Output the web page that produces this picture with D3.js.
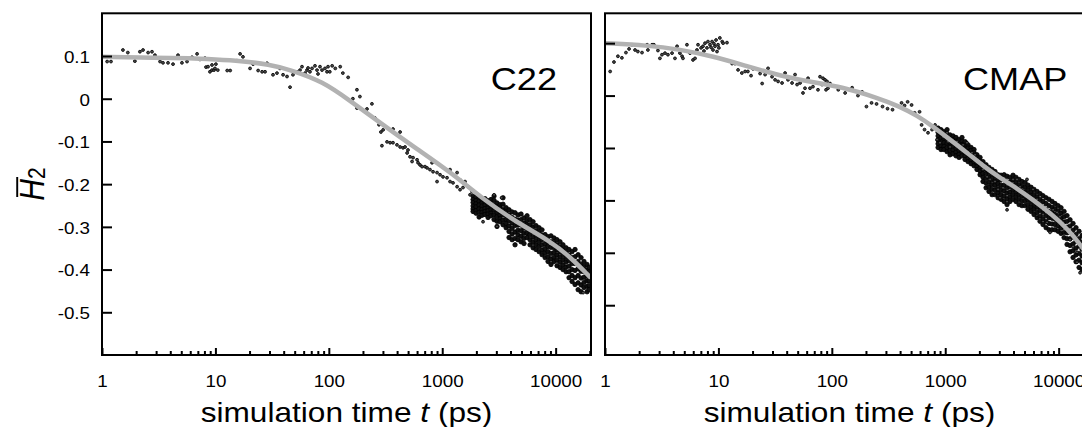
<!DOCTYPE html>
<html>
<head>
<meta charset="utf-8">
<script src="https://cdn.jsdelivr.net/npm/d3@7"></script>
<style>
  body { margin: 0; background: #fff; }
  svg { display: block; }
  text { font-family: "Liberation Sans", Arial, Helvetica, sans-serif; fill: #000; }
</style>
</head>
<body>
<svg id="chart" width="1082" height="427"></svg>
<script>
// ---- axis tick values and labels ----
const decadeTicks = [1, 10, 100, 1000, 10000];
const decadeLabels = ["1", "10", "100", "1000", "10000"];
const yTicksC22 = [0.1, 0, -0.1, -0.2, -0.3, -0.4, -0.5];
const yTicksCMAP = [0.1, 0, -0.1, -0.2, -0.3, -0.4];
const panelNames = ["C22", "CMAP"];

// ---- C22: individual samples [t (ps), H2] ----
const c22Scatter = [
  [1.11,0.087],[1.2,0.087],[1.53,0.114],[1.69,0.108],[1.95,0.088],[2.16,0.110],[2.30,0.114],[2.55,0.108],
  [2.76,0.110],[2.93,0.102],[3.25,0.087],[3.45,0.084],[3.82,0.084],[4.23,0.081],[4.68,0.102],[5.07,0.084],
  [5.62,0.087],[6.22,0.097],[6.89,0.105],[7.31,0.092],[8.09,0.095],[8.26,0.074],[8.61,0.075],[8.95,0.063],
  [9.33,0.067],[9.33,0.079],[9.72,0.067],[9.91,0.071],[10.1,0.081],[10.5,0.067],[11.0,0.091],[12.7,0.066],
  [13.5,0.066],[15.5,0.089],[16.5,0.105],[17.5,0.098],[20.2,0.071],[21.5,0.081],[23.8,0.066],[25.8,0.063],
  [27.4,0.063],[28.5,0.083],[32.2,0.056],[34.9,0.060],[37.1,0.071],[39.5,0.056],[42.8,0.052],[45.5,0.027],
  [48.3,0.056],[52.5,0.063],[55.7,0.067],[58.0,0.075],[61.7,0.060],[64.2,0.067],[65.6,0.072],[68.2,0.063],
  [71.1,0.071],[75.5,0.077],[78.7,0.067],[80.3,0.058],[83.6,0.075],[87.1,0.067],[92.5,0.071],[96.4,0.063],
  [98.4,0.075],[102,0.063],[107,0.077],[114,0.071],[126,0.075],[133,0.060],[148,0.050],[163,0.000],
  [177,0.021],[188,0.005],
  [177,-0.022],[217,-0.024],[240,-0.012],[255,-0.045],[277,-0.061],[288,-0.078],[294,-0.110],[301,-0.073],
  [326,-0.101],[347,-0.103],[368,-0.071],[368,-0.103],[399,-0.108],[425,-0.078],[425,-0.113],[451,-0.115],
  [470,-0.113],[490,-0.127],[499,-0.120],[520,-0.136],[542,-0.147],[553,-0.138],[600,-0.143],[612,-0.150],
  [637,-0.155],[664,-0.159],[705,-0.159],[735,-0.162],[780,-0.166],[813,-0.150],[830,-0.171],[900,-0.173],
  [900,-0.194],[957,-0.178],[1016,-0.183],[1102,-0.185],[1172,-0.166],[1172,-0.194],[1245,-0.197],[1352,-0.173],
  [1352,-0.206],[1436,-0.190],[1436,-0.213],[1525,-0.208],[1589,-0.194],[1690,-0.206],[1758,-0.225],[1832,-0.218],
  [2290,-0.288],[2864,-0.225],[3041,-0.299],[3340,-0.232],[17460,-0.454]
];

// ---- C22: dense late-time cloud, one column per time [t, [H2 ...]] ----
const c22Cloud = [
  [1871,[-0.228,-0.236,-0.243,-0.251,-0.258,-0.264]],
  [1987,[-0.230,-0.238,-0.246,-0.253,-0.262,-0.268]],
  [2113,[-0.232,-0.240,-0.249,-0.258,-0.266,-0.277]],
  [2244,[-0.237,-0.244,-0.251,-0.259,-0.266,-0.273]],
  [2384,[-0.234,-0.241,-0.249,-0.257,-0.264,-0.271]],
  [2535,[-0.239,-0.247,-0.256,-0.262,-0.270,-0.278]],
  [2692,[-0.236,-0.245,-0.252,-0.260,-0.268,-0.274]],
  [2864,[-0.228,-0.238,-0.250,-0.261,-0.272,-0.283]],
  [3041,[-0.244,-0.254,-0.266,-0.276,-0.287,-0.299]],
  [3236,[-0.248,-0.256,-0.265,-0.273,-0.281,-0.288]],
  [3436,[-0.232,-0.247,-0.260,-0.272,-0.284,-0.295]],
  [3656,[-0.255,-0.265,-0.274,-0.283,-0.292,-0.302]],
  [3882,[-0.260,-0.272,-0.285,-0.298,-0.311,-0.325]],
  [4130,[-0.265,-0.278,-0.291,-0.304,-0.317,-0.330]],
  [4385,[-0.267,-0.282,-0.297,-0.312,-0.327,-0.342]],
  [4656,[-0.272,-0.284,-0.296,-0.308,-0.319,-0.330]],
  [4955,[-0.270,-0.283,-0.296,-0.309,-0.322,-0.335]],
  [5260,[-0.279,-0.291,-0.303,-0.315,-0.327,-0.339]],
  [5598,[-0.274,-0.285,-0.295,-0.305,-0.315,-0.325]],
  [5943,[-0.283,-0.295,-0.307,-0.318,-0.330,-0.342]],
  [6324,[-0.288,-0.300,-0.312,-0.324,-0.336,-0.349]],
  [6714,[-0.297,-0.309,-0.320,-0.331,-0.342,-0.353]],
  [7145,[-0.302,-0.313,-0.324,-0.335,-0.346,-0.358]],
  [7586,[-0.307,-0.319,-0.330,-0.342,-0.354,-0.365]],
  [8072,[-0.318,-0.329,-0.340,-0.351,-0.361,-0.372]],
  [8570,[-0.323,-0.335,-0.346,-0.358,-0.370,-0.381]],
  [9099,[-0.321,-0.335,-0.348,-0.362,-0.375,-0.388]],
  [9683,[-0.326,-0.337,-0.349,-0.360,-0.371,-0.381]],
  [10280,[-0.330,-0.342,-0.354,-0.366,-0.378,-0.391]],
  [10940,[-0.335,-0.347,-0.359,-0.371,-0.383,-0.395]],
  [11610,[-0.342,-0.353,-0.365,-0.377,-0.389,-0.400]],
  [12360,[-0.349,-0.360,-0.371,-0.382,-0.394,-0.405]],
  [13120,[-0.353,-0.366,-0.379,-0.392,-0.405,-0.419]],
  [13960,[-0.358,-0.372,-0.386,-0.400,-0.414,-0.428]],
  [14830,[-0.353,-0.370,-0.386,-0.402,-0.419,-0.435]],
  [15780,[-0.365,-0.381,-0.398,-0.414,-0.431,-0.447]],
  [16750,[-0.372,-0.388,-0.404,-0.420,-0.436,-0.452]],
  [17780,[-0.381,-0.393,-0.405,-0.418,-0.430,-0.442]],
  [18920,[-0.388,-0.401,-0.414,-0.426,-0.439,-0.452]],
  [19720,[-0.395,-0.405,-0.416,-0.426,-0.437,-0.447]]
];

// ---- C22: fitted curve [t, H2] ----
const c22Fit = [
  [1,0.098],[3,0.096],[6,0.095],[10,0.092],[16.5,0.089],[30,0.080],[45.5,0.068],[89,0.040],
  [154,-0.005],[300,-0.061],[600,-0.118],[1172,-0.171],[2290,-0.235],[4570,-0.290],[8920,-0.333],
  [13400,-0.370],[20000,-0.417]
];

// ---- CMAP: individual samples [t (ps), H2] ----
const cmapScatter = [
  [1.11,0.046],[1.2,0.064],[1.30,0.075],[1.41,0.072],[1.53,0.082],[1.63,0.089],[1.73,0.097],[1.84,0.087],
  [1.95,0.084],[2.12,0.082],[2.35,0.097],[2.39,0.087],[2.60,0.097],[2.70,0.097],[2.93,0.086],[3.05,0.071],
  [3.18,0.078],[3.38,0.081],[3.59,0.078],[3.90,0.081],[4.14,0.071],[4.32,0.094],[4.58,0.081],[4.78,0.075],
  [4.87,0.071],[5.28,0.097],[5.62,0.081],[5.97,0.068],[6.22,0.071],[6.47,0.087],[6.61,0.097],[7.03,0.091],
  [7.31,0.094],[7.46,0.085],[7.62,0.100],[7.93,0.091],[8.09,0.103],[8.43,0.097],[8.61,0.092],[8.79,0.103],
  [8.96,0.087],[9.14,0.099],[9.33,0.094],[9.53,0.106],[9.72,0.084],[9.93,0.097],[10.1,0.091],[10.3,0.110],
  [10.8,0.103],[11.0,0.100],[11.9,0.101],
  [13.2,0.061],[14.0,0.061],[14.9,0.049],[16.1,0.043],[17.2,0.046],[18.2,0.046],[19.4,0.038],[20.2,0.051],
  [23.3,0.042],[24.3,0.023],[25.8,0.040],[27.4,0.052],[29.7,0.036],[31.6,0.030],[33.6,0.027],[36.4,0.024],
  [38.7,0.043],[41.1,0.030],[44.6,0.024],[47.4,0.040],[49.4,0.021],[52.5,0.024],[55.7,0.005],[58.0,0.014],
  [61.7,0.033],[64.2,0.014],[68.2,0.017],[74.0,0.024],[75.5,0.011],[78.7,0.036],[82.0,0.021],[83.6,0.033],
  [87.1,0.030],[88.9,0.011],[90.7,0.027],[92.5,0.014],[96.4,0.023],[114,0.011],[131,0.005],[151,0.015],
  [170,0.000],[185,0.007],
  [202,-0.021],[224,-0.014],[248,-0.016],[280,-0.021],[310,-0.025],[343,-0.027],[412,-0.014],[438,-0.019],
  [466,-0.012],[505,-0.018],[537,-0.033],[594,-0.031],[619,-0.056],[657,-0.065],[705,-0.071],[765,-0.065],
  [813,-0.056],[847,-0.084],[900,-0.090],[957,-0.079],[1038,-0.071],[1059,-0.088],[1102,-0.098],[1172,-0.090],
  [1271,-0.088],[1352,-0.099],[1436,-0.094],[1556,-0.090],[1589,-0.107],[1722,-0.109],[1832,-0.113],[1945,-0.122],
  [2113,-0.128],[2153,-0.141],[2339,-0.155],[2484,-0.160],[2588,-0.147],[2748,-0.164],[2924,-0.179],[3041,-0.195],
  [3236,-0.176],[3508,-0.218],[3724,-0.166],[3963,-0.160],[4295,-0.160],[4571,-0.174],[4853,-0.183],[5260,-0.160],
  [5598,-0.198],[5943,-0.179],[6457,-0.198],[6855,-0.212],[7295,-0.227],[7907,-0.242],[8395,-0.261],[8933,-0.218],
  [9683,-0.223],[10280,-0.231],[10940,-0.242],[11860,-0.256],[12610,-0.275],[13400,-0.288],[14520,-0.299],
  [14520,-0.318],[15450,-0.338]
];

// ---- CMAP: dense late-time cloud [t, [H2 ...]] ----
const cmapCloud = [
  [865,[-0.062,-0.070,-0.077,-0.085,-0.092,-0.099]],
  [918,[-0.065,-0.073,-0.081,-0.089,-0.096,-0.103]],
  [975,[-0.069,-0.076,-0.083,-0.090,-0.097,-0.103]],
  [1038,[-0.065,-0.074,-0.082,-0.091,-0.099,-0.107]],
  [1102,[-0.075,-0.083,-0.090,-0.098,-0.105,-0.113]],
  [1172,[-0.077,-0.084,-0.091,-0.098,-0.104,-0.111]],
  [1245,[-0.080,-0.087,-0.094,-0.101,-0.108,-0.115]],
  [1324,[-0.084,-0.091,-0.098,-0.105,-0.112,-0.118]],
  [1406,[-0.080,-0.087,-0.094,-0.101,-0.108,-0.115]],
  [1496,[-0.088,-0.095,-0.102,-0.109,-0.115,-0.122]],
  [1589,[-0.094,-0.100,-0.107,-0.113,-0.120,-0.126]],
  [1690,[-0.099,-0.105,-0.111,-0.117,-0.123,-0.130]],
  [1795,[-0.103,-0.109,-0.115,-0.121,-0.127,-0.134]],
  [1905,[-0.113,-0.118,-0.124,-0.130,-0.135,-0.141]],
  [2028,[-0.118,-0.125,-0.131,-0.138,-0.144,-0.151]],
  [2153,[-0.126,-0.133,-0.141,-0.149,-0.156,-0.164]],
  [2291,[-0.132,-0.141,-0.149,-0.158,-0.167,-0.176]],
  [2432,[-0.137,-0.146,-0.155,-0.165,-0.174,-0.183]],
  [2588,[-0.141,-0.151,-0.160,-0.170,-0.179,-0.189]],
  [2748,[-0.145,-0.154,-0.163,-0.171,-0.180,-0.189]],
  [2924,[-0.151,-0.160,-0.168,-0.177,-0.186,-0.195]],
  [3105,[-0.152,-0.161,-0.171,-0.180,-0.189,-0.198]],
  [3304,[-0.151,-0.161,-0.171,-0.182,-0.192,-0.202]],
  [3508,[-0.154,-0.165,-0.176,-0.186,-0.197,-0.208]],
  [3724,[-0.156,-0.165,-0.174,-0.184,-0.193,-0.202]],
  [3963,[-0.152,-0.161,-0.171,-0.180,-0.189,-0.198]],
  [4207,[-0.156,-0.165,-0.174,-0.184,-0.193,-0.202]],
  [4477,[-0.160,-0.170,-0.179,-0.189,-0.198,-0.208]],
  [4753,[-0.164,-0.173,-0.183,-0.192,-0.201,-0.210]],
  [5058,[-0.166,-0.175,-0.184,-0.193,-0.201,-0.210]],
  [5370,[-0.171,-0.180,-0.189,-0.199,-0.208,-0.217]],
  [5715,[-0.175,-0.184,-0.193,-0.202,-0.212,-0.221]],
  [6067,[-0.179,-0.189,-0.198,-0.208,-0.217,-0.227]],
  [6457,[-0.183,-0.193,-0.203,-0.213,-0.223,-0.233]],
  [6855,[-0.187,-0.198,-0.208,-0.219,-0.230,-0.240]],
  [7278,[-0.191,-0.202,-0.213,-0.224,-0.235,-0.246]],
  [7745,[-0.195,-0.206,-0.218,-0.229,-0.240,-0.252]],
  [8222,[-0.198,-0.210,-0.221,-0.233,-0.244,-0.256]],
  [8750,[-0.202,-0.213,-0.223,-0.234,-0.245,-0.256]],
  [9290,[-0.206,-0.216,-0.226,-0.236,-0.246,-0.256]],
  [9886,[-0.210,-0.220,-0.230,-0.240,-0.249,-0.259]],
  [10500,[-0.214,-0.224,-0.234,-0.244,-0.253,-0.263]],
  [11170,[-0.221,-0.231,-0.241,-0.251,-0.261,-0.271]],
  [11860,[-0.229,-0.240,-0.251,-0.262,-0.273,-0.284]],
  [12610,[-0.237,-0.249,-0.261,-0.273,-0.286,-0.298]],
  [13400,[-0.244,-0.257,-0.270,-0.283,-0.296,-0.309]],
  [14230,[-0.252,-0.265,-0.278,-0.291,-0.304,-0.317]],
  [15140,[-0.259,-0.273,-0.287,-0.301,-0.314,-0.328]],
  [16070,[-0.267,-0.280,-0.293,-0.306,-0.319,-0.332]]
];

// ---- CMAP: fitted curve [t, H2] ----
const cmapFit = [
  [1,0.100],[2.35,0.096],[4.58,0.088],[8.96,0.075],[17.9,0.056],[34.9,0.038],[68.2,0.025],[120,0.017],
  [251,-0.004],[399,-0.021],[564,-0.038],[780,-0.059],[1102,-0.084],[1556,-0.109],[2153,-0.134],
  [3041,-0.157],[4295,-0.177],[5943,-0.199],[8395,-0.224],[11860,-0.253],[16080,-0.288],[20000,-0.320]
];

// ---------------------------------------------------------------
const svg = d3.select("#chart");
const plotTop = 13.3, plotBottom = 355;
const textStretch = 1.14;
const fontFamily = '"Liberation Sans", Arial, Helvetica, sans-serif';
const tMax = 20500;

const minorTicks = [];
decadeTicks.forEach(d => { for (let k = 2; k <= 9; k++) if (d * k <= tMax) minorTicks.push(d * k); });

const panels = [
  { name: panelNames[0], x0: 102, x1: 591, yDomain: [-0.6, 0.2], yTicks: yTicksC22, yLabels: true,
    scatter: c22Scatter, cloud: c22Cloud, fit: c22Fit, nameX: 557, nameAnchor: "end" },
  { name: panelNames[1], x0: 605, x1: 1094, yDomain: [-0.495, 0.157], yTicks: yTicksCMAP, yLabels: false,
    scatter: cmapScatter, cloud: cmapCloud, fit: cmapFit, nameX: 963, nameAnchor: "start" }
];

const fmtY = d => (d === 0 ? "0" : String(+d.toFixed(1)));

panels.forEach((p, i) => {
  const x = d3.scaleLog().domain([1, tMax]).range([p.x0, p.x1]);
  const y = d3.scaleLinear().domain(p.yDomain).range([plotBottom, plotTop]);
  const g = svg.append("g");

  const clipId = "clip" + i;
  svg.append("clipPath").attr("id", clipId)
    .append("rect").attr("x", p.x0).attr("y", plotTop)
    .attr("width", p.x1 - p.x0).attr("height", plotBottom - plotTop);

  const marks = g.append("g").attr("clip-path", `url(#${clipId})`);

  const sparse = p.scatter.map(d => ({ t: d[0], h: d[1] }));
  const dense = [];
  p.cloud.forEach(c => c[1].forEach(h => dense.push({ t: c[0], h })));

  // dense cloud: overlapping samples read as a solid band
  marks.append("g").selectAll("circle").data(dense).join("circle")
    .attr("cx", d => x(d.t)).attr("cy", d => y(d.h)).attr("r", 2.2)
    .attr("fill", "#111").attr("stroke", "#000").attr("stroke-width", 0.8);

  marks.append("g").selectAll("circle").data(sparse).join("circle")
    .attr("cx", d => x(d.t)).attr("cy", d => y(d.h)).attr("r", 1.45)
    .attr("fill", "#4a4a4a").attr("stroke", "#000").attr("stroke-width", 0.8);

  const line = d3.line().x(d => x(d[0])).y(d => y(d[1])).curve(d3.curveBasis);
  marks.append("path").datum(p.fit).attr("d", line)
    .attr("fill", "none").attr("stroke", "#b2b2b2").attr("stroke-width", 4.5)
    .attr("stroke-linecap", "round");

  // frame
  g.append("rect").attr("x", p.x0).attr("y", plotTop)
    .attr("width", p.x1 - p.x0).attr("height", plotBottom - plotTop)
    .attr("fill", "none").attr("stroke", "#000").attr("stroke-width", 2);

  // x axis: decades (labelled) and minor ticks, pointing inward
  const xMajor = d3.axisBottom(x).tickValues(decadeTicks)
    .tickFormat((d, k) => decadeLabels[k]).tickSizeInner(-7).tickSizeOuter(0).tickPadding(20);
  const xMinor = d3.axisBottom(x).tickValues(minorTicks)
    .tickFormat("").tickSizeInner(-4).tickSizeOuter(0);

  [xMinor, xMajor].forEach(ax => {
    g.append("g").attr("transform", `translate(0,${plotBottom})`).call(ax)
      .attr("font-size", 16.5).attr("font-family", fontFamily)
      .call(s => s.select(".domain").remove())
      .call(s => s.selectAll(".tick line").attr("stroke", "#000").attr("stroke-width", 2))
      .call(s => s.selectAll(".tick text").attr("fill", "#000")
        .attr("transform", `scale(${textStretch},1)`));
  });

  // y axis, ticks pointing inward
  const yAxis = d3.axisLeft(y).tickValues(p.yTicks)
    .tickFormat(p.yLabels ? fmtY : "").tickSizeInner(-10).tickSizeOuter(0).tickPadding(10.5);
  g.append("g").attr("transform", `translate(${p.x0},0)`).call(yAxis)
    .attr("font-size", 16.5).attr("font-family", fontFamily)
    .call(s => s.select(".domain").remove())
    .call(s => s.selectAll(".tick line").attr("stroke", "#000").attr("stroke-width", 2))
    .call(s => s.selectAll(".tick text").attr("fill", "#000").attr("dy", "0.38em")
      .attr("transform", `scale(${textStretch},1)`));

  // panel name
  g.append("text").attr("transform", `translate(${p.nameX},90) scale(1.13,1)`)
    .attr("text-anchor", p.nameAnchor).attr("font-size", 32).text(p.name);

  // x axis title
  const xt = g.append("text")
    .attr("transform", `translate(${(p.x0 + p.x1) / 2},422) scale(1.13,1)`)
    .attr("text-anchor", "middle").attr("font-size", 28);
  xt.append("tspan").text("simulation time ");
  xt.append("tspan").attr("font-style", "italic").text("t");
  xt.append("tspan").text(" (ps)");
});

// y axis title: H-bar with subscript 2
const yt = svg.append("g").attr("transform", `translate(44,184) scale(${textStretch},1) rotate(-90)`);
const ytText = yt.append("text").attr("text-anchor", "middle");
ytText.append("tspan").attr("font-style", "italic").attr("font-size", 30).text("H");
ytText.append("tspan").attr("font-size", 21).attr("dy", 1).text("2");
yt.append("line").attr("x1", -13).attr("x2", 7).attr("y1", -23.5).attr("y2", -23.5)
  .attr("stroke", "#000").attr("stroke-width", 1.7);
</script>
</body>
</html>
